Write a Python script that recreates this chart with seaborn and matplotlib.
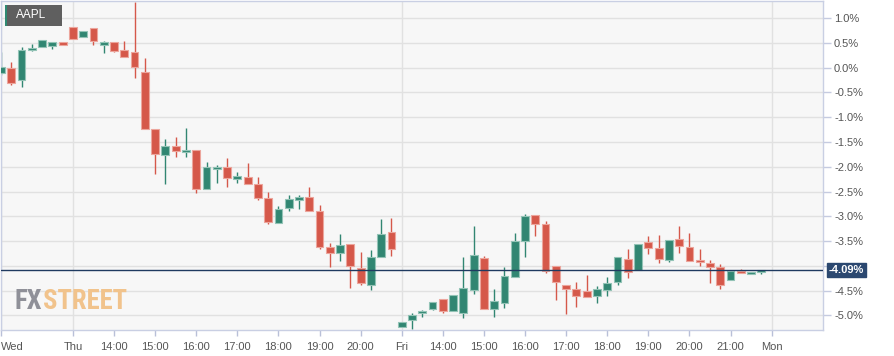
import numpy as np
import matplotlib
matplotlib.use("Agg")
import matplotlib.pyplot as plt
import seaborn as sns
from matplotlib import font_manager as fm
from matplotlib.patches import Rectangle
from matplotlib.transforms import blended_transform_factory

# ---------------- data (percent change, 15-min candles) ----------------
opens = [
    -0.11, -0.01, -0.25, 0.35, 0.42, 0.44, 0.51, 0.82, 0.62, 0.80,
    0.46, 0.52, 0.36, 0.31, -0.09, -1.24, -1.76, -1.58, -1.70, -1.66,
    -2.45, -2.05, -2.01, -2.25, -2.21, -2.35, -2.63, -3.14, -2.83, -2.67,
    -2.61, -2.89, -3.62, -3.74, -3.56, -4.04, -4.39, -3.82, -3.32, -5.23,
    -5.09, -4.95, -4.87, -4.67, -4.91, -4.95, -4.49, -3.84, -4.87, -4.75,
    -4.22, -3.50, -2.97, -3.16, -4.00, -4.39, -4.47, -4.51, -4.61, -4.49,
    -4.33, -3.86, -4.08, -3.52, -3.64, -3.88, -3.46, -3.62, -3.90, -3.94,
    -4.02, -4.28, -4.12, -4.16, -4.12]
highs = [
    0.31, 0.11, 0.42, 0.48, 0.56, 0.52, 0.51, 0.82, 0.74, 0.80,
    0.54, 0.52, 0.54, 1.32, 0.19, -1.24, -1.44, -1.40, -1.22, -1.66,
    -1.90, -1.96, -1.82, -2.11, -1.92, -2.21, -2.51, -2.79, -2.57, -2.57,
    -2.41, -2.77, -3.54, -3.36, -3.56, -3.72, -3.68, -3.05, -3.03, -5.13,
    -4.95, -4.89, -4.73, -4.67, -4.59, -3.82, -3.20, -3.80, -4.47, -4.02,
    -3.34, -2.95, -2.97, -3.10, -4.00, -4.39, -4.33, -4.18, -4.41, -4.22,
    -3.82, -3.66, -3.56, -3.40, -3.38, -3.48, -3.20, -3.34, -3.66, -3.88,
    -3.96, -4.10, -4.06, -4.12, -4.09]
lows = [
    -0.15, -0.35, -0.39, 0.33, 0.42, 0.38, 0.46, 0.58, 0.62, 0.46,
    0.29, 0.31, 0.21, -0.21, -1.24, -2.15, -2.35, -1.80, -1.80, -2.53,
    -2.45, -2.33, -2.41, -2.33, -2.35, -2.67, -3.16, -3.14, -2.89, -2.85,
    -2.89, -3.66, -4.02, -3.90, -4.45, -4.39, -4.49, -3.82, -3.80, -5.23,
    -5.27, -5.03, -4.89, -4.95, -4.91, -5.05, -4.57, -4.87, -5.03, -4.85,
    -4.22, -3.82, -3.40, -4.14, -4.69, -4.97, -4.83, -4.63, -4.75, -4.61,
    -4.39, -4.24, -4.08, -3.76, -3.94, -3.92, -3.74, -3.90, -4.00, -4.35,
    -4.47, -4.28, -4.14, -4.16, -4.16]
closes = [
    0.01, -0.31, 0.36, 0.39, 0.56, 0.52, 0.46, 0.58, 0.74, 0.54,
    0.52, 0.33, 0.21, 0.01, -1.24, -1.74, -1.58, -1.68, -1.66, -2.45,
    -2.01, -2.01, -2.23, -2.19, -2.35, -2.63, -3.12, -2.85, -2.65, -2.61,
    -2.89, -3.62, -3.74, -3.58, -4.00, -4.35, -3.82, -3.36, -3.66, -5.13,
    -4.99, -4.93, -4.73, -4.91, -4.59, -4.45, -3.78, -4.87, -4.71, -4.20,
    -3.50, -2.99, -3.16, -4.10, -4.33, -4.47, -4.61, -4.63, -4.47, -4.35,
    -3.82, -4.12, -3.56, -3.64, -3.86, -3.48, -3.60, -3.90, -3.92, -4.02,
    -4.39, -4.10, -4.14, -4.12, -4.09]

tick_positions = [0, 7, 11, 15, 19, 23, 27, 31, 35, 39, 43, 47, 51, 55, 59, 63, 67, 71, 75]
tick_labels = ["Wed", "Thu", "14:00", "15:00", "16:00", "17:00", "18:00", "19:00", "20:00",
               "Fri", "14:00", "15:00", "16:00", "17:00", "18:00", "19:00", "20:00", "21:00", "Mon"]
day_positions = [0, 7, 39, 75]
y_ticks = [1.0, 0.5, 0.0, -0.5, -1.0, -1.5, -2.0, -2.5, -3.0, -3.5, -4.0, -4.5, -5.0]
last_value = -4.09
symbol = "AAPL"

# ---------------- style ----------------
sns.set_theme(style="white")
plt.rcParams["font.family"] = ["Liberation Sans", "DejaVu Sans"]

W, H = 894, 356
fig = plt.figure(figsize=(W / 100, H / 100), dpi=100, facecolor="white")
ax = fig.add_axes([1 / W, 26 / H, 822 / W, 329 / H])
ax.set_facecolor("#f7f7f7")

o = np.array(opens); h = np.array(highs); l = np.array(lows); c = np.array(closes)
idx = np.arange(len(o))
up = c >= o
GREEN, RED = "#318672", "#d5584a"
GREEN_E, RED_E = "#93c3b6", "#eca59c"
cols = np.where(up, GREEN, RED)
ecols = np.where(up, GREEN_E, RED_E)

# grid
for v in y_ticks:
    ax.axhline(v, color="#e1e1e1", lw=1.0, zorder=0)
for d in day_positions:
    ax.axvline(d, color="#e1e1e1", lw=1.0, zorder=0)

# wicks and bodies
ax.vlines(idx, l, h, colors=cols, lw=1.0, zorder=2)
body_bot = np.minimum(o, c)
body_h = np.maximum(np.abs(c - o), 0.035)
ax.bar(idx, body_h, bottom=body_bot, width=0.76, color=cols, edgecolor=ecols,
       linewidth=0.8, zorder=3)

# last price line
ax.axhline(last_value, color="#1f3a60", lw=1.0, zorder=4)

ax.set_xlim(0, 80)
ax.set_ylim(-5.293, 1.344)

ax.yaxis.tick_right()
ax.set_yticks(y_ticks)
# the -4.0% label sits behind the last-value badge in the reference
ax.set_yticklabels(["" if abs(v - last_value) < 0.2 else f"{v:.1f}%" for v in y_ticks])
ax.set_xticks(tick_positions)
ax.set_xticklabels(tick_labels)
xt = ax.get_xticklabels()
xt[0].set_horizontalalignment("left")
ax.tick_params(axis="x", length=4, width=1, color="#b9c0d8", labelsize=8,
               labelcolor="#555555", pad=5, direction="out", bottom=True)
ax.tick_params(axis="y", length=6, width=1, color="#c5cbe0", labelsize=8,
               labelcolor="#555555", pad=2, direction="out", right=True, left=False)
for s in ax.spines.values():
    s.set_color("#c9cfe3")
    s.set_linewidth(1.0)
ax.grid(False)

# last value label
trans = blended_transform_factory(ax.transAxes, ax.transData)
ax.text(1.0 + 6 / 822, last_value, "-4.09%", transform=trans, ha="left", va="center",
        color="white", fontsize=8, fontweight="bold", clip_on=False, zorder=20,
        bbox=dict(boxstyle="square,pad=0.18", fc="#2b4870", ec="#2b4870"))

# symbol box
fig.patches.append(Rectangle((5 / W, 1 - 26 / H), 57 / W, 21 / H, transform=fig.transFigure,
                             fc="#5f5f5f", ec="none", zorder=10))
fig.patches.append(Rectangle((5 / W, 1 - 26 / H), 2 / W, 21 / H, transform=fig.transFigure,
                             fc="#2f8a72", ec="none", zorder=11))
fig.text(16 / W, 1 - 15.5 / H, symbol, color="white", fontsize=8.5, va="center", ha="left",
         zorder=12)

# watermark
names = {f.name for f in fm.fontManager.ttflist}
wm_family, wm_stretch = "DejaVu Sans", "condensed"
for n in ["Roboto Condensed", "Liberation Sans Narrow", "Open Sans Condensed"]:
    if n in names:
        wm_family, wm_stretch = n, "normal"
        break
renderer = fig.canvas.get_renderer()
probe = fig.text(0, 0, "FXSTREET", fontsize=20, fontweight="bold", family=wm_family,
                 fontstretch=wm_stretch)
wpx = probe.get_window_extent(renderer).width
probe.remove()
fs = min(24.0, 20 * 112 / wpx)
base_y = 1 - 309 / H
t1 = fig.text(15 / W, base_y, "FX", color="#8f9098", fontsize=fs, fontweight="bold",
              family=wm_family, fontstretch=wm_stretch, va="baseline", ha="left", zorder=1)
bb = t1.get_window_extent(renderer)
fig.text(bb.x1 / W, base_y, "STREET", color="#f1c38c", fontsize=fs, fontweight="bold",
         family=wm_family, fontstretch=wm_stretch, va="baseline", ha="left", zorder=1)

fig.savefig("out.png", dpi=100, facecolor="white")
